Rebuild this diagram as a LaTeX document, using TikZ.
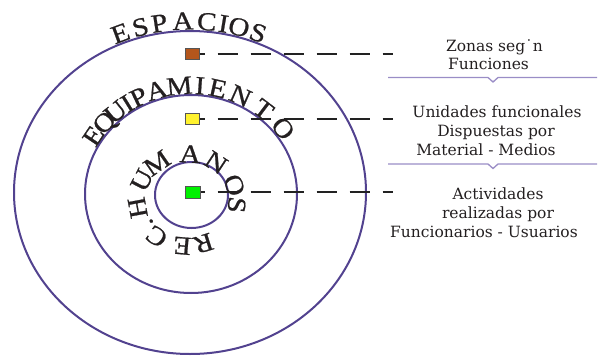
\documentclass[tikz,border=0pt]{standalone}
\usepackage{fontspec}
\setmainfont{DejaVu Serif}
\newfontfamily\ringfont[FakeStretch=1.12,FakeBold=0.8]{Liberation Serif}
\usetikzlibrary{backgrounds}
\definecolor{ring}{HTML}{52428F}
\definecolor{ulc}{HTML}{9A8DC6}
\definecolor{brownsq}{HTML}{B4561C}
\definecolor{yellowsq}{HTML}{FFF22E}
\definecolor{greensq}{HTML}{00F000}
\definecolor{sqborder}{HTML}{555555}
\definecolor{leadc}{HTML}{222222}
\definecolor{txt}{HTML}{231F20}
\begin{document}
\begin{tikzpicture}[x=1pt,y=-1pt,
  ringline/.style={draw=ring, line width=2pt},
  sqbox/.style={draw=sqborder, line width=0.8pt, minimum width=14pt, minimum height=11pt, inner sep=0pt},
  leader/.style={draw=leadc, line width=2pt, dash pattern=on 20pt off 13pt},
  lbl/.style={font=\fontsize{15.5}{19}\selectfont, text=txt, anchor=base, inner sep=0pt},
  ul/.style={draw=ulc, line width=1.3pt},
  rl/.style={font=\ringfont\fontsize{26}{26}\selectfont, text=txt, anchor=base, inner sep=0pt}
]
\useasboundingbox (0,0) rectangle (602,356);

% squares
\node[sqbox, fill=brownsq] (sq1) at (192,53.5) {};
\node[sqbox, fill=yellowsq] (sq2) at (192,119) {};
\node[sqbox, fill=greensq, minimum width=15pt, minimum height=12pt] (sq3) at (192.5,192) {};
\coordinate (e1) at (393,53.5);
\coordinate (e2) at (393,119);
\coordinate (e3) at (393,192);

\begin{scope}[on background layer]
\draw[ringline] (190,192.5) ellipse [x radius=176pt, y radius=161.5pt];
\draw[ringline] (191,194) ellipse [x radius=106pt, y radius=99pt];
\draw[ringline] (191.5,195) ellipse [x radius=36.5pt, y radius=33pt];
\draw[leader] (sq1.west) -- (e1);
\draw[leader] (sq2.west) -- (e2);
\draw[leader] (sq3.west) -- (e3);
\end{scope}

% ring 1
\foreach \ch/\t [count=\i] in {E/112, S/105.5, P/99.5, A/92.2, C/84.8, I/79.6, O/74.7, S/68.5} {
  \pgfmathsetmacro\px{190+178*cos(\t)}
  \pgfmathsetmacro\py{192.5-163*sin(\t)}
  \pgfmathsetmacro\rot{atan2(-163*cos(\t),178*sin(\t))}
  \node[rl, rotate=\rot] (ra\i) at (\px,\py) {\ch};
}
% ring 2
\foreach \ch/\t [count=\i] in {E/147.8, Q/138.9, U/131, I/123.6, P/117, A/107.4, M/95.8, I/85.5, E/76.5, N/64.5, T/51, O/37} {
  \pgfmathsetmacro\px{191+107*cos(\t)}
  \pgfmathsetmacro\py{194-100*sin(\t)}
  \pgfmathsetmacro\rot{atan2(-100*cos(\t),107*sin(\t))}
  \node[rl, rotate=\rot] (rb\i) at (\px,\py) {\ch};
}
% ring 3
\foreach \ch/\t [count=\i] in {R/-70.7, E/-95.6, C/-127.8, ./-147, H/-170.5, U/154.9, M/127.3, A/86.2, N/54, O/18.4, S/-6} {
  \pgfmathsetmacro\px{187+41.5*cos(\t)}
  \pgfmathsetmacro\py{200-37.5*sin(\t)}
  \pgfmathsetmacro\rot{atan2(-37.5*cos(\t),41.5*sin(\t))}
  \node[rl, rotate=\rot] (rc\i) at (\px,\py) {\ch};
}

% labels
\node[lbl] (z1) at (494.5,51) {Zonas seg˙n};
\node[lbl] (z2) at (488.5,69) {Funciones};
\node[lbl] (u1) at (497,117) {Unidades funcionales};
\node[lbl] (u2) at (496,136) {Dispuestas por};
\node[lbl] (u3) at (486,155) {Material - Medios};
\node[lbl] (a1) at (498,199) {Actividades};
\node[lbl] (a2) at (498,218) {realizadas por};
\node[lbl] (a3) at (484,237) {Funcionarios - Usuarios};

% underlines
\draw[ul] (388,77.5) -- (488,77.5) -- (493,82) -- (498,77.5) -- (597,77.5);
\draw[ul] (388,164) -- (488,164) -- (493,168.5) -- (498,164) -- (597,164);
\end{tikzpicture}
\end{document}
